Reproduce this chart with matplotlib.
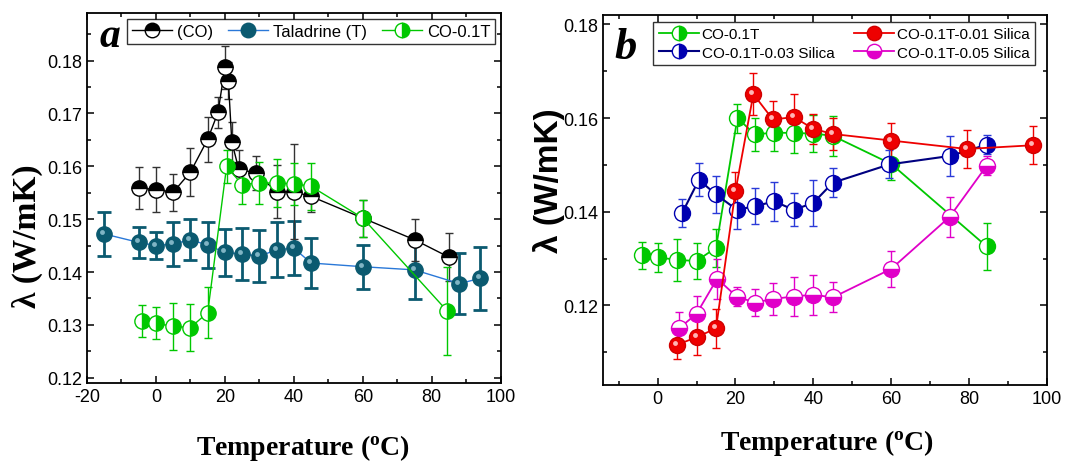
import matplotlib
matplotlib.use("Agg")
import matplotlib.pyplot as plt
from matplotlib.ticker import MultipleLocator
from matplotlib.transforms import offset_copy

plt.rcParams['font.family'] = ['Liberation Sans', 'DejaVu Sans']
plt.rcParams['axes.unicode_minus'] = False
plt.rcParams['mathtext.fontset'] = 'custom'
plt.rcParams['mathtext.rm'] = 'Liberation Serif'
plt.rcParams['mathtext.bf'] = 'Liberation Serif:bold'

# ---- panel a data ----
co_t = [-5, 0, 5, 10, 15, 18, 20, 21, 22, 24, 29, 35, 40, 45, 60, 75, 85]
co_k = [0.1559, 0.1556, 0.1551, 0.1589, 0.1651, 0.1702, 0.1787, 0.1762, 0.1646,
        0.1595, 0.1587, 0.1552, 0.1552, 0.1543, 0.1502, 0.1461, 0.1428]
co_e = [0.004, 0.0043, 0.0035, 0.0045, 0.0043, 0.003, 0.004, 0.0035, 0.0037,
        0.0035, 0.0032, 0.005, 0.009, 0.003, 0.0035, 0.004, 0.0045]

tal_t = [-15, -5, 0, 5, 10, 15, 20, 25, 30, 35, 40, 45, 60, 75, 88, 94]
tal_k = [0.1472, 0.1456, 0.1450, 0.1453, 0.1461, 0.1451, 0.1437, 0.1434, 0.1430,
         0.1442, 0.1445, 0.1417, 0.1410, 0.1404, 0.1378, 0.1388]
tal_e = [0.0041, 0.003, 0.0025, 0.0042, 0.0039, 0.0043, 0.0045, 0.0049, 0.0049,
         0.0052, 0.0051, 0.0048, 0.0042, 0.0056, 0.0058, 0.006]

g_t = [-4, 0, 5, 10, 15, 20.5, 25, 30, 35, 40, 45, 60, 84.5]
g_k = [0.1307, 0.1303, 0.1297, 0.1295, 0.1323, 0.1600, 0.1565, 0.1569, 0.1568,
       0.1567, 0.1562, 0.1502, 0.1326]
g_e = [0.003, 0.003, 0.0045, 0.0045, 0.0048, 0.0031, 0.0036, 0.004, 0.0045,
       0.004, 0.0045, 0.0035, 0.0083]

# ---- panel b data ----
r_t = [5, 10, 15, 20, 24.6, 29.6, 35, 40, 45, 60, 79.4, 96.5]
r_k = [0.1116, 0.1132, 0.1151, 0.1444, 0.1651, 0.1597, 0.1602, 0.1577, 0.1566,
       0.1552, 0.1534, 0.1542]
r_e = [0.0031, 0.0037, 0.0042, 0.004, 0.0045, 0.004, 0.0049, 0.0032, 0.0035,
       0.0037, 0.004, 0.004]

b_t = [6.3, 10.6, 15, 20.4, 25, 30, 35, 40, 45, 59.5, 75, 84.5]
b_k = [0.1397, 0.1468, 0.1437, 0.1404, 0.1412, 0.1422, 0.1404, 0.1419, 0.1462,
       0.1501, 0.1519, 0.1543]
b_e = [0.003, 0.0035, 0.004, 0.004, 0.0039, 0.0041, 0.0035, 0.0049, 0.0031,
       0.003, 0.0042, 0.002]

m_t = [5.5, 10, 15.3, 20.3, 25, 29.7, 35, 40, 45, 60, 75, 84.5]
m_k = [0.1151, 0.1182, 0.1257, 0.1219, 0.1206, 0.1214, 0.1219, 0.1223, 0.1217,
       0.1278, 0.1389, 0.1498]
m_e = [0.0034, 0.0038, 0.0043, 0.002, 0.0029, 0.0034, 0.0041, 0.0043, 0.0032,
       0.0038, 0.0042, 0.002]

gb_e = [0.0029, 0.0031, 0.0045, 0.0039, 0.004, 0.0031, 0.0036, 0.004, 0.0043,
        0.004, 0.0043, 0.0035, 0.005]

labels_a = ['(CO)', 'Taladrine (T)', 'CO-0.1T']
labels_b = ['CO-0.1T', 'CO-0.1T-0.03 Silica', 'CO-0.1T-0.01 Silica',
            'CO-0.1T-0.05 Silica']

GREEN = '#00c800'
TEAL = '#0b5a70'
RED = '#ee0000'
NAVY = '#0000b0'
MAG = '#e000c8'


def style_axes(ax):
    ax.tick_params(which='both', direction='in', top=True, right=True,
                   labelsize=13, width=1.1)
    ax.tick_params(which='major', length=5)
    ax.tick_params(which='minor', length=3)
    for s in ax.spines.values():
        s.set_linewidth(1.3)


def shine(ax, x, y, color):
    # little highlight spot that makes the ball markers look shaded
    tr = offset_copy(ax.transData, fig=ax.figure, x=-2, y=2, units='dots')
    ax.plot(x, y, 'o', ms=3.5, color=color, mec='none', transform=tr, zorder=5)


fig = plt.figure(figsize=(10.7, 4.64), dpi=100)

# ---------- panel a ----------
ax = fig.add_axes([0.0813, 0.1724, 0.3867, 0.7974])
h_tal = ax.errorbar(tal_t, tal_k, yerr=tal_e, fmt='-o', color='#2a78d8', lw=1,
                    ms=11, mfc=TEAL, mec=TEAL, ecolor=TEAL, elinewidth=2,
                    capsize=5, capthick=2)
shine(ax, tal_t, tal_k, '#7fb4c4')
h_co = ax.errorbar(co_t, co_k, yerr=co_e, fmt='-o', color='black', lw=1,
                   ms=11, fillstyle='top', mfc='black', mfcalt='white',
                   mec='black', mew=1, ecolor='#333333', elinewidth=1,
                   capsize=3, capthick=1)
h_g = ax.errorbar(g_t, g_k, yerr=g_e, fmt='-o', color=GREEN, lw=1,
                  ms=11, fillstyle='right', mfc=GREEN, mfcalt='white',
                  mec=GREEN, mew=1, ecolor=GREEN, elinewidth=1,
                  capsize=3, capthick=1)
ax.set_xlim(-20, 100)
ax.set_ylim(0.119, 0.189)
ax.xaxis.set_major_locator(MultipleLocator(20))
ax.xaxis.set_minor_locator(MultipleLocator(10))
ax.yaxis.set_minor_locator(MultipleLocator(0.005))
ax.set_yticks([0.12, 0.13, 0.14, 0.15, 0.16, 0.17, 0.18])
style_axes(ax)
leg = ax.legend([h_co[0], h_tal[0], h_g[0]], labels_a, ncol=3,
                loc='upper right', bbox_to_anchor=(0.995, 0.993), fontsize=12,
                frameon=True, fancybox=False, edgecolor='black',
                handlelength=2.4, columnspacing=0.9, handletextpad=0.3,
                borderpad=0.3, borderaxespad=0.2, markerscale=0.95)
leg.get_frame().set_linewidth(1)
ax.text(0.03, 0.91, 'a', transform=ax.transAxes, fontsize=30,
        fontweight='bold', style='italic', family='Liberation Serif',
        zorder=10)
fig.text(0.026, 0.49, 'λ (W/mK)', rotation=90, ha='center', va='center',
         fontsize=24, fontweight='bold', family='Liberation Serif')
fig.text(0.283, 0.035, r'Temperature ($\mathbf{^{o}}$C)', ha='center',
         va='center', fontsize=20, fontweight='bold', family='Liberation Serif')

# ---------- panel b ----------
bx = fig.add_axes([0.5636, 0.168, 0.4149, 0.7975])
h_gb = bx.errorbar(g_t, g_k, yerr=gb_e, fmt='-o', color=GREEN, lw=1.3,
                   ms=11.5, fillstyle='right', mfc=GREEN, mfcalt='white',
                   mec=GREEN, mew=1, ecolor=GREEN, elinewidth=1,
                   capsize=3, capthick=1)
h_b = bx.errorbar(b_t, b_k, yerr=b_e, fmt='-o', color='#000080', lw=1.5,
                  ms=11.5, fillstyle='right', mfc=NAVY, mfcalt='white',
                  mec=NAVY, mew=1, ecolor='#2a3ad8', elinewidth=1,
                  capsize=3, capthick=1)
h_m = bx.errorbar(m_t, m_k, yerr=m_e, fmt='-o', color=MAG, lw=1.3,
                  ms=11.5, fillstyle='bottom', mfc=MAG, mfcalt='white',
                  mec=MAG, mew=1, ecolor=MAG, elinewidth=1,
                  capsize=3, capthick=1)
h_r = bx.errorbar(r_t, r_k, yerr=r_e, fmt='-o', color=RED, lw=1.3,
                  ms=11.5, mfc=RED, mec='#d00000', mew=1, ecolor=RED,
                  elinewidth=1, capsize=3, capthick=1)
shine(bx, r_t, r_k, '#ffb4b4')
bx.set_xlim(-14, 100)
bx.set_ylim(0.103, 0.182)
bx.xaxis.set_major_locator(MultipleLocator(20))
bx.xaxis.set_minor_locator(MultipleLocator(10))
bx.yaxis.set_major_locator(MultipleLocator(0.02))
bx.yaxis.set_minor_locator(MultipleLocator(0.01))
style_axes(bx)
leg2 = bx.legend([h_gb[0], h_b[0], h_r[0], h_m[0]], labels_b, ncol=2,
                 loc='upper right', bbox_to_anchor=(0.98, 0.99),
                 fontsize=11, frameon=True, fancybox=False,
                 edgecolor='black', handlelength=2.6, columnspacing=1.3,
                 handletextpad=0.2, borderpad=0.35, labelspacing=0.3,
                 borderaxespad=0.2, markerscale=0.9)
leg2.get_frame().set_linewidth(1)
bx.text(0.025, 0.885, 'b', transform=bx.transAxes, fontsize=32,
        fontweight='bold', style='italic', family='Liberation Serif',
        zorder=10)
fig.text(0.513, 0.61, 'λ (W/mK)', rotation=90, ha='center', va='center',
         fontsize=24, fontweight='bold')
fig.text(0.773, 0.045, r'Temperature ($\mathbf{^{o}}$C)', ha='center',
         va='center', fontsize=20, fontweight='bold', family='Liberation Serif')

fig.savefig('out.png', dpi=100)
